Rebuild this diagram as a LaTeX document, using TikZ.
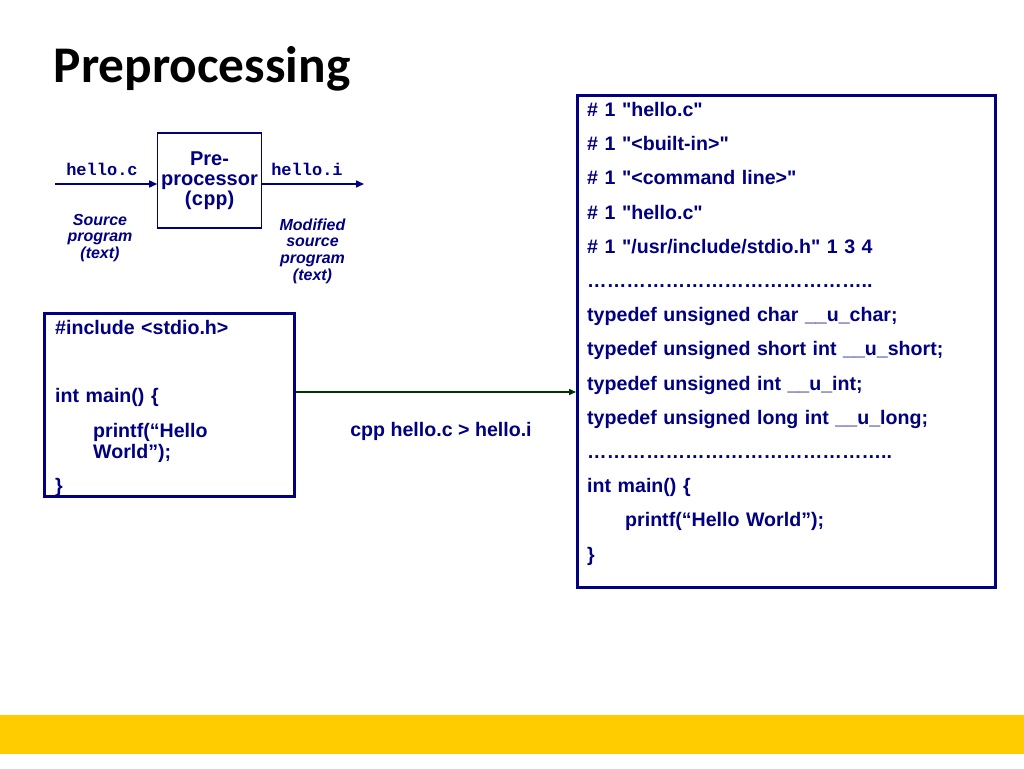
\documentclass[tikz,border=0pt]{standalone}
\usepackage{fontspec}
\setmainfont{Liberation Sans}
\setmonofont{Liberation Mono}
\newfontfamily\titlefont{Carlito}
\usetikzlibrary{arrows.meta,positioning}
\definecolor{codeblue}{RGB}{0,0,128}
\definecolor{cmdgreen}{RGB}{0,51,0}
\definecolor{bandyellow}{RGB}{255,204,0}
\newcommand{\dq}{\textquotedbl}
\tikzset{
  codebox/.style={draw=codeblue, line width=3pt, inner sep=0pt, anchor=north west},
  codetext/.style={text=codeblue, font=\bfseries\fontsize{19.6}{34.2}\selectfont, align=left, inner sep=0pt, anchor=base west},
  fname/.style={text=codeblue, font=\ttfamily\bfseries\fontsize{17}{20}\selectfont, inner sep=0pt, anchor=base},
  note/.style={text=codeblue, font=\bfseries\itshape\fontsize{16}{16.7}\selectfont, align=center, text width=110pt, inner sep=0pt, anchor=base},
  flow/.style={draw=codeblue, line width=1.5pt, -{Triangle[length=8pt,width=7pt]}},
}
\begin{document}
\begin{tikzpicture}[x=1pt, y=-1pt]
  \useasboundingbox (0,0) rectangle (1024,768);
  \fill[bandyellow] (0,715) rectangle (1024,754);
  \node (title) [anchor=base west, inner sep=0pt, font=\titlefont\bfseries\fontsize{51.4}{60}\selectfont] at (53.5,82.5) {Preprocessing};
  % small pipeline
  \node (cpp) [draw=codeblue, line width=1.2pt, minimum width=103pt, minimum height=95pt, align=center,
    text=codeblue, font=\bfseries\fontsize{20}{20}\selectfont] at (209.5,180.5) {Pre-\\processor\\(\texttt{cpp})};
  \coordinate (srcin) at (55,184);
  \coordinate (srcout) at (364,184);
  \draw[flow] (srcin) -- (srcin -| cpp.west);
  \draw[flow] (srcout -| cpp.east) -- (srcout);
  \node (cfile) [fname] at (102,175) {hello.c};
  \node (ifile) [fname] at (307,175) {hello.i};
  \node (srcnote) [note] at (100,225) {Source\\program\\(text)};
  \node (outnote) [note] at (312.5,230) {Modified\\source\\program\\(text)};
  % source and output listings
  \node (src) [codebox, minimum width=249.7pt, minimum height=183.3pt] at (43.3,311.7) {};
  \node (srccode) [codetext, text width=230pt] at (55,334.5) {\#include <stdio.h>\\[34.2pt]
    int main() \{\\
    \hspace*{38pt}printf(“Hello\\[-12.9pt]
    \hspace*{38pt}World”);\\
    \}};
  \node (out) [codebox, minimum width=418pt, minimum height=492pt] at (576,94) {};
  \node (outcode) [codetext, text width=400pt] at (587,116.5) {\# 1 \dq hello.c\dq\\
    \# 1 \dq<built-in>\dq\\
    \# 1 \dq<command line>\dq\\
    \# 1 \dq hello.c\dq\\
    \# 1 \dq/usr/include/stdio.h\dq{} 1 3 4\\
    ……………………………………..\\
    typedef unsigned char \_\_u\_char;\\
    typedef unsigned short int \_\_u\_short;\\
    typedef unsigned int \_\_u\_int;\\
    typedef unsigned long int \_\_u\_long;\\
    ………………………………………..\\
    int main() \{\\
    \hspace*{38pt}printf(“Hello World”);\\
    \}};
  \coordinate (cmdy) at (0,392);
  \draw[draw=cmdgreen, line width=1.5pt, -{Triangle[length=7pt,width=6pt]}] (src.east |- cmdy) -- (out.west |- cmdy);
  \node (cmd) [text=codeblue, font=\bfseries\fontsize{19.6}{24}\selectfont, inner sep=0pt, anchor=base] at (441,436.7) {cpp hello.c > hello.i};
\end{tikzpicture}
\end{document}
